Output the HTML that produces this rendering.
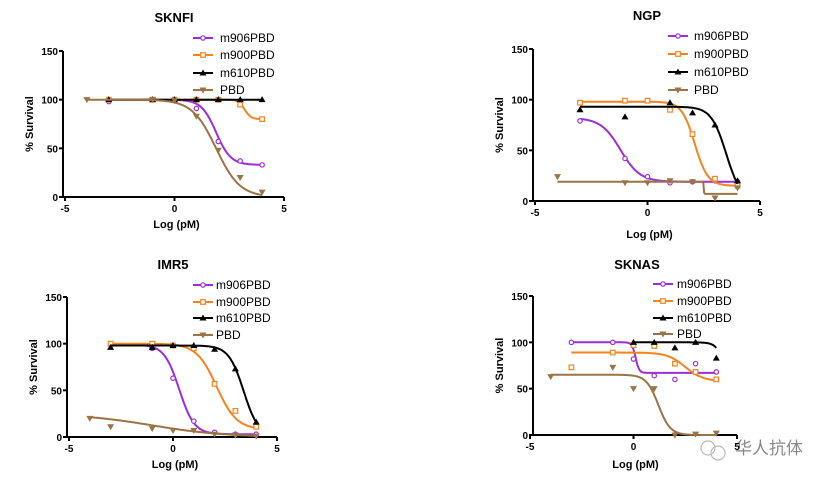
<!DOCTYPE html>
<html><head><meta charset="utf-8">
<style>
html,body{margin:0;padding:0;background:#fff;}
svg{display:block;font-family:"Liberation Sans",Arial,sans-serif;}
</style></head>
<body>
<svg id="chart" width="833" height="482" viewBox="0 0 833 482">
<g id="wm">
  <circle cx="708" cy="448" r="7" fill="none" stroke="#bbb" stroke-width="1.2"/>
  <circle cx="718" cy="453" r="7" fill="none" stroke="#bbb" stroke-width="1.2"/>
  <text x="735" y="454" font-size="17" fill="#888" font-family="'Noto Sans CJK SC',sans-serif">华人抗体</text>
</g>
</svg>
<script>
// ---- data ----
const panelTitles = ["SKNFI","NGP","IMR5","SKNAS"];
const seriesNames = ["m906PBD","m900PBD","m610PBD","PBD"];
const xTicks = [-5,0,5];
const yTicks = [0,50,100,150];
// points per panel per series: x (log pM) and y (% survival)
const p1x = [[-3,-1,0,1,2,3,4],[-3,-1,0,1,2,3,4],[-3,-1,0,1,2,3,4],[-4,-1,0,1,2,3,4]];
const p1y = [[98,100,100,91,57,37,33],[100,100,100,100,100,95,80],[100,100,100,100,100,100,100],[100,100,99,83,48,20,5]];
const p2x = [[-3,-1,0,1,2,3,4],[-3,-1,0,1,2,3,4],[-3,-1,1,2,3,4],[-4,-1,0,1,2,3,4]];
const p2y = [[79,42,24,18,19,20,19],[97,99,99,90,66,22,15],[90,83,97,87,75,20],[24,18,18,20,19,3,13]];
const p3x = [[-3,-1,0,1,2,3,4],[-3,-1,0,1,2,3,4],[-3,-1,0,1,2,3,4],[-4,-3,-1,0,1,2,3,4]];
const p3y = [[99,95,63,17,5,3,3],[100,100,98,95,57,28,11],[96,96,98,98,94,73,16],[20,11,9,7,7,3,2,1]];
const p4x = [[-3,-1,0,1,2,3,4],[-3,-1,0,1,2,3,4],[0,1,2,3,4],[-4,-1,0,1,2,3,4]];
const p4y = [[100,100,82,64,60,77,68],[73,89,97,96,77,68,60],[100,100,94,100,83],[63,73,50,50,0,1,2]];
// fitted curve params [top,bottom,logIC50,hill,xStart]
const f1 = [[100,33,1.9,1.3,-3],[100,80,3.2,3,-3],[100,100,9,1,-3],[100,0,1.9,0.8,-4]];
const f2 = [[82,19,-1.2,1,-3],[98,15,2.1,1.5,-3],[93,0,3.5,1.3,-3],[19,7,2.5,50,-4]];
const f3 = [[99,3,0.3,1.2,-3],[100,8,2.1,0.9,-3],[98,0,3.4,1.2,-3],[25,0,-1,0.25,-4]];
const f4 = [[100,67,0.1,5,-3],[89,58,2.5,1,-3],[100,0,4.6,2,0],[65,0,1.2,1.5,-4]];

const colors = ["#9b2fd6","#f5841f","#000000","#9a7446"];
const NS="http://www.w3.org/2000/svg";
const svg=document.getElementById('chart');
const layouts=[
 {x0:65,x1:284,yt:51,yb:197,ax:63,tx:174,ty:22,lx:193,ltx:220,ly:[38,55,73,90],xl:228},
 {x0:535,x1:760,yt:49,yb:201,ax:533,tx:647,ty:20,lx:668,ltx:694,ly:[36,54,72,90],xl:238},
 {x0:69,x1:277,yt:297,yb:437,ax:67,tx:173,ty:269,lx:193,ltx:216,ly:[285,302,318,335],xl:468},
 {x0:530,x1:737,yt:296,yb:435,ax:533,tx:637,ty:269,lx:653,ltx:677,ly:[284,301,318,334],xl:468}
];
const allX=[p1x,p2x,p3x,p4x], allY=[p1y,p2y,p3y,p4y], allF=[f1,f2,f3,f4];
function mk(tag,attrs,parent){const e=document.createElementNS(NS,tag);for(const k in attrs)e.setAttribute(k,attrs[k]);parent.appendChild(e);return e;}
function marker(g,s,cx,cy,c){
  let m;
  if(s===0) m=mk('circle',{cx:cx,cy:cy,r:2.2,fill:'#fff',stroke:c,'stroke-width':1.2},g);
  else if(s===1) m=mk('rect',{x:cx-2.3,y:cy-2.3,width:4.6,height:4.6,fill:'#fff',stroke:c,'stroke-width':1.2},g);
  else if(s===2) m=mk('polygon',{points:`${cx},${cy-3.5} ${cx-3.5},${cy+2.5} ${cx+3.5},${cy+2.5}`,fill:c},g);
  else m=mk('polygon',{points:`${cx},${cy+3.5} ${cx-3.5},${cy-2.5} ${cx+3.5},${cy-2.5}`,fill:c},g);
  return m;
}
layouts.forEach((L,pi)=>{
  const g=mk('g',{},svg);
  
  
  const sx=v=>L.x0+(v+5)/10*(L.x1-L.x0);
  const sy=v=>L.yb-v/150*(L.yb-L.yt);
  const t=mk('text',{x:L.tx,y:L.ty,'text-anchor':'middle','font-size':13,'font-weight':'bold'},g);t.textContent=panelTitles[pi];
  
  
  const ya=mk('line',{x1:L.ax,y1:L.yt,x2:L.ax,y2:L.yb+1,stroke:'#000','stroke-width':2},g);
  
  
  const xa=mk('line',{x1:L.ax-1,y1:L.yb,x2:L.x1,y2:L.yb,stroke:'#000','stroke-width':2},g);
  
  
  yTicks.forEach(v=>{
    mk('line',{x1:L.ax-4,y1:sy(v),x2:L.ax,y2:sy(v),stroke:'#000','stroke-width':2},g);
    const tt=mk('text',{x:L.ax-5,y:sy(v)+4,'text-anchor':'end','font-size':10,'font-weight':'bold'},g);tt.textContent=v;
    
    
  });
  xTicks.forEach(v=>{
    mk('line',{x1:sx(v),y1:L.yb,x2:sx(v),y2:L.yb+4,stroke:'#000','stroke-width':2},g);
    const tt=mk('text',{x:sx(v),y:L.yb+15,'text-anchor':'middle','font-size':10,'font-weight':'bold'},g);tt.textContent=v;
    
    
  });
  const xl=mk('text',{x:(L.x0+L.x1)/2+2,y:L.xl,'text-anchor':'middle','font-size':11,'font-weight':'bold'},g);xl.textContent='Log (pM)';
  
  
  const yx=L.ax-30;
  const yc=(L.yt+L.yb)/2;
  const yl=mk('text',{x:yx,y:yc,'text-anchor':'middle','font-size':11,'font-weight':'bold',transform:`rotate(-90 ${yx} ${yc})`},g);yl.textContent='% Survival';
  
  
  for(let s=0;s<4;s++){
    const c=colors[s];
    const sg=mk('g',{},g);
    
    
    const f=allF[pi][s];
    let d='';
    for(let i=0;i<=200;i++){
      const x=f[4]+(4-f[4])*i/200;
      const y=f[1]+(f[0]-f[1])/(1+Math.pow(10,(x-f[2])*f[3]));
      d+=(i?'L':'M')+sx(x).toFixed(1)+','+sy(y).toFixed(1);
    }
    const p=mk('path',{d:d,fill:'none',stroke:c,'stroke-width':2},sg);
    
    
    allX[pi][s].forEach((xv,i)=>{
      const m=marker(sg,s,sx(xv),sy(allY[pi][s][i]),c);
      
      
    });
    const lg=mk('g',{},g);
    
    
    const ly=L.ly[s];
    mk('line',{x1:L.lx,y1:ly,x2:L.lx+20,y2:ly,stroke:c,'stroke-width':2},lg);
    marker(lg,s,L.lx+10,ly,c);
    const lt=mk('text',{x:L.ltx,y:ly+4,'font-size':12},lg);lt.textContent=seriesNames[s];
  }
});
</script>
</body></html>
